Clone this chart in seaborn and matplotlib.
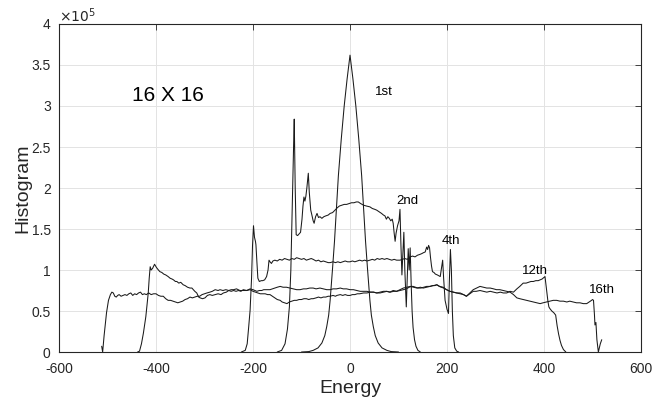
import numpy as np
import pandas as pd
import matplotlib
matplotlib.use("Agg")
import matplotlib.pyplot as plt
from matplotlib.ticker import FuncFormatter, MultipleLocator
import seaborn as sns

# Energy histograms of the 16 X 16 lattice, counts in units of 1e5
x_1st = [-100, -85, -76, -66, -58, -52, -48, -44, -41, -36, -32, -28, -24, -18, -12, -6, 0,
         6, 12, 18, 24, 28, 32, 36, 41, 44, 48, 52, 58, 66, 76, 85, 100]
h_1st = [0, 0.005, 0.02, 0.05, 0.11, 0.2, 0.31, 0.45, 0.63, 1.02, 1.35, 1.75, 2.15, 2.6, 3.0, 3.33, 3.62,
         3.33, 3.0, 2.6, 2.15, 1.75, 1.35, 1.02, 0.63, 0.45, 0.31, 0.2, 0.11, 0.05, 0.02, 0.005, 0]

x_2nd = [-150, -141, -134, -129, -125, -122, -119, -116, -115, -113, -111, -108, -105, -102, -99, -97,
         -95, -93, -91, -89, -86, -84, -81, -79, -76, -74, -71, -68, -65, -62, -58, -54, -50, -45, -41,
         -36, -31, -26, -22, -17, -12, -7, -2, 3, 8, 13, 17, 22, 28, 34, 41, 46, 51, 55, 60, 65, 69, 72,
         75, 78, 81, 84, 87, 89, 91, 93, 95, 98, 101, 103, 105, 107, 109, 111, 113, 116, 118, 120, 122,
         124, 126, 128, 130, 133, 136, 140, 145]
h_2nd = [0, 0.02, 0.1, 0.28, 0.55, 1.0, 1.8, 2.6, 2.84, 2.0, 1.43, 1.42, 1.44, 1.46, 1.62, 1.78,
         1.89, 1.84, 1.9, 2.0, 2.18, 1.95, 1.73, 1.68, 1.6, 1.57, 1.65, 1.69, 1.64, 1.65, 1.63, 1.65, 1.66,
         1.67, 1.69, 1.70, 1.73, 1.76, 1.78, 1.79, 1.80, 1.80, 1.81, 1.82, 1.82, 1.83, 1.83, 1.81, 1.79,
         1.78, 1.77, 1.75, 1.74, 1.73, 1.71, 1.69, 1.67, 1.66, 1.62, 1.65, 1.63, 1.60, 1.62, 1.57, 1.45,
         1.35, 1.45, 1.54, 1.60, 1.74, 1.30, 0.94, 1.20, 1.46, 1.00, 0.55, 0.90, 1.26, 1.00, 1.27, 0.85,
         0.50, 0.30, 0.15, 0.07, 0.02, 0]

x_4th = [-224, -216, -212, -209, -206, -203, -201, -199, -197, -195, -194, -192, -190, -187, -183, -180,
         -176, -172, -169, -167, -165, -162, -159, -155, -150, -145, -140, -135, -130, -125, -120, -115,
         -110, -105, -100, -95, -90, -85, -80, -76, -70, -65, -60, -55, -50, -45, -41, -35, -30, -25, -20,
         -15, -10, -5, 0, 5, 10, 15, 20, 25, 30, 35, 41, 46, 51, 56, 61, 66, 71, 76, 81, 86, 91, 96, 103,
         108, 113, 118, 124, 129, 134, 139, 144, 148, 151, 155, 158, 160, 162, 164, 166, 168, 170, 173,
         176, 180, 183, 186, 188, 191, 193, 196, 200, 203, 205, 207, 209, 211, 213, 216, 220, 224]
h_4th = [0, 0.02, 0.1, 0.3, 0.51, 0.9, 1.3, 1.54, 1.4, 1.35, 1.31, 1.1, 0.9, 0.86, 0.87, 0.87,
         0.88, 0.92, 1.0, 1.12, 1.10, 1.08, 1.11, 1.12, 1.11, 1.13, 1.12, 1.14, 1.13, 1.12, 1.14, 1.13,
         1.15, 1.14, 1.13, 1.14, 1.12, 1.13, 1.14, 1.13, 1.11, 1.12, 1.10, 1.11, 1.10, 1.09, 1.09, 1.10,
         1.09, 1.10, 1.09, 1.10, 1.11, 1.10, 1.10, 1.11, 1.10, 1.11, 1.12, 1.11, 1.12, 1.11, 1.12, 1.13,
         1.12, 1.14, 1.13, 1.14, 1.13, 1.14, 1.13, 1.12, 1.13, 1.12, 1.12, 1.13, 1.14, 1.13, 1.16, 1.17,
         1.16, 1.18, 1.19, 1.20, 1.21, 1.22, 1.28, 1.25, 1.30, 1.27, 1.15, 1.05, 0.98, 0.97, 0.95, 0.94,
         0.93, 0.92, 1.00, 1.12, 0.90, 0.63, 0.52, 0.47, 0.90, 1.25, 1.00, 0.50, 0.20, 0.05, 0.01, 0]

x_12th = [-438, -434, -430, -426, -421, -418, -416, -414, -412, -410, -407, -403, -401, -399, -395, -392,
          -388, -384, -380, -375, -371, -367, -364, -360, -357, -353, -349, -344, -340, -335, -330, -326,
          -320, -316, -312, -309, -304, -299, -294, -289, -284, -278, -272, -266, -261, -255, -250, -245,
          -240, -235, -230, -225, -220, -213, -206, -200, -195, -190, -185, -180, -175, -170, -165, -160,
          -155, -150, -144, -140, -135, -130, -125, -120, -115, -110, -105, -100, -95, -90, -85, -80, -76,
          -70, -65, -60, -55, -50, -45, -41, -35, -30, -27, -20, -15, -10, -5, 0, 5, 10, 15, 20, 28, 35,
          41, 48, 55, 62, 69, 75, 82, 89, 96, 103, 110, 116, 122, 126, 130, 135, 140, 146, 152, 158, 165,
          170, 175, 179, 184, 188, 193, 199, 206, 213, 220, 227, 234, 240, 247, 254, 260, 268, 275, 282,
          289, 296, 303, 310, 316, 323, 330, 337, 344, 350, 357, 363, 368, 373, 378, 383, 388, 392, 396,
          400, 402, 404, 406, 408, 410, 412, 416, 420, 424, 427, 430, 433, 436, 440, 445]
h_12th = [0, 0.01, 0.1, 0.23, 0.43, 0.6, 0.72, 0.9, 1.04, 1.0, 1.02, 1.07, 1.05, 1.03, 1.0, 0.98,
          0.97, 0.95, 0.94, 0.92, 0.90, 0.89, 0.88, 0.86, 0.86, 0.84, 0.85, 0.82, 0.81, 0.79, 0.78, 0.78,
          0.74, 0.72, 0.67, 0.66, 0.65, 0.66, 0.69, 0.70, 0.69, 0.70, 0.71, 0.70, 0.72, 0.73, 0.75, 0.74,
          0.75, 0.74, 0.75, 0.74, 0.76, 0.75, 0.76, 0.74, 0.73, 0.72, 0.71, 0.71, 0.71, 0.70, 0.70, 0.68,
          0.66, 0.64, 0.63, 0.61, 0.60, 0.59, 0.61, 0.62, 0.63, 0.63, 0.64, 0.64, 0.65, 0.65, 0.64, 0.65,
          0.65, 0.66, 0.67, 0.66, 0.67, 0.67, 0.68, 0.68, 0.69, 0.68, 0.69, 0.70, 0.69, 0.70, 0.69, 0.69,
          0.70, 0.70, 0.71, 0.71, 0.72, 0.72, 0.73, 0.73, 0.72, 0.73, 0.74, 0.74, 0.73, 0.75, 0.74, 0.75,
          0.76, 0.77, 0.79, 0.80, 0.80, 0.79, 0.78, 0.78, 0.79, 0.80, 0.80, 0.81, 0.81, 0.82, 0.80, 0.79,
          0.78, 0.76, 0.74, 0.73, 0.72, 0.71, 0.70, 0.68, 0.71, 0.74, 0.74, 0.75, 0.74, 0.73, 0.74, 0.73,
          0.72, 0.73, 0.72, 0.72, 0.74, 0.73, 0.77, 0.80, 0.84, 0.84, 0.85, 0.86, 0.86, 0.87, 0.87, 0.88,
          0.89, 0.91, 0.92, 0.82, 0.72, 0.62, 0.55, 0.53, 0.50, 0.48, 0.45, 0.32, 0.22, 0.14, 0.08, 0.03, 0]

x_16th = [-512, -510, -507, -505, -502, -498, -494, -491, -488, -485, -482, -479, -476, -472, -468, -464,
          -460, -456, -452, -448, -444, -440, -436, -432, -428, -424, -420, -415, -410, -405, -400, -395,
          -390, -385, -380, -375, -370, -365, -360, -355, -350, -345, -340, -335, -330, -325, -320, -315,
          -310, -305, -300, -295, -289, -284, -278, -272, -268, -262, -256, -250, -245, -240, -234, -227,
          -220, -213, -206, -200, -196, -192, -187, -182, -178, -172, -165, -160, -155, -150, -144, -138,
          -131, -124, -117, -110, -103, -96, -90, -83, -76, -70, -62, -55, -48, -41, -35, -28, -20, -14,
          -7, 0, 7, 14, 21, 28, 35, 42, 49, 55, 62, 69, 76, 83, 90, 96, 103, 110, 117, 124, 131, 138, 145,
          151, 158, 165, 172, 179, 185, 192, 199, 206, 213, 220, 227, 234, 240, 247, 254, 261, 268, 275,
          282, 289, 296, 302, 309, 316, 323, 330, 337, 344, 350, 357, 364, 371, 378, 385, 392, 398, 405,
          412, 419, 426, 433, 440, 447, 453, 460, 467, 474, 481, 488, 493, 498, 500, 502, 504, 505, 507,
          509, 512, 516, 519]
h_16th = [0.07, 0, 0.2, 0.31, 0.48, 0.63, 0.70, 0.73, 0.72, 0.68, 0.67, 0.69, 0.70, 0.68, 0.69, 0.70,
          0.69, 0.71, 0.72, 0.69, 0.71, 0.70, 0.72, 0.73, 0.70, 0.71, 0.70, 0.72, 0.70, 0.71, 0.71, 0.69,
          0.68, 0.68, 0.65, 0.63, 0.63, 0.62, 0.61, 0.60, 0.61, 0.62, 0.64, 0.65, 0.67, 0.66, 0.67, 0.68,
          0.68, 0.70, 0.71, 0.72, 0.73, 0.74, 0.76, 0.75, 0.76, 0.75, 0.76, 0.75, 0.76, 0.76, 0.77, 0.75,
          0.75, 0.75, 0.77, 0.76, 0.75, 0.74, 0.75, 0.75, 0.76, 0.76, 0.76, 0.77, 0.78, 0.79, 0.80, 0.79,
          0.79, 0.78, 0.77, 0.76, 0.76, 0.77, 0.77, 0.78, 0.78, 0.77, 0.78, 0.77, 0.76, 0.76, 0.77, 0.77,
          0.78, 0.77, 0.77, 0.76, 0.76, 0.75, 0.74, 0.74, 0.74, 0.73, 0.73, 0.72, 0.72, 0.73, 0.74, 0.73,
          0.74, 0.74, 0.76, 0.78, 0.79, 0.80, 0.79, 0.78, 0.79, 0.78, 0.79, 0.80, 0.81, 0.82, 0.80, 0.79,
          0.76, 0.74, 0.73, 0.72, 0.72, 0.70, 0.68, 0.72, 0.76, 0.78, 0.80, 0.79, 0.78, 0.78, 0.77, 0.76,
          0.76, 0.75, 0.74, 0.73, 0.70, 0.66, 0.65, 0.64, 0.63, 0.62, 0.61, 0.60, 0.59, 0.60, 0.61, 0.62,
          0.63, 0.63, 0.62, 0.62, 0.61, 0.62, 0.61, 0.60, 0.60, 0.59, 0.59, 0.61, 0.63, 0.64, 0.63, 0.45,
          0.33, 0.36, 0.15, 0.0, 0.10, 0.15]

# curve labels: (text, energy, histogram / 1e5)
labels = [("1st", 52, 3.13), ("2nd", 96, 1.80), ("4th", 189, 1.32),
          ("12th", 354, 0.95), ("16th", 493, 0.72)]

series = {"1st": (x_1st, h_1st), "2nd": (x_2nd, h_2nd), "4th": (x_4th, h_4th),
          "12th": (x_12th, h_12th), "16th": (x_16th, h_16th)}

frames = []
for name, (xs, hs) in series.items():
    frames.append(pd.DataFrame({"Energy": xs, "Histogram": np.asarray(hs) * 1e5, "curve": name}))
df = pd.concat(frames, ignore_index=True)

sns.set_style("white")
plt.rcParams["font.family"] = ["Liberation Sans", "DejaVu Sans"]

fig = plt.figure(figsize=(6.57, 4.04), dpi=100)
ax = fig.add_axes([0.0898, 0.1287, 0.8859, 0.8119])

ink = "#262626"
sns.lineplot(data=df, x="Energy", y="Histogram", hue="curve", units="curve",
             palette=["#1a1a1a"] * 5, estimator=None, sort=False, legend=False,
             linewidth=0.75, ax=ax)

ax.set_xlim(-600, 600)
ax.set_ylim(0, 4e5)
ax.xaxis.set_major_locator(MultipleLocator(200))
ax.yaxis.set_major_locator(MultipleLocator(0.5e5))
ax.yaxis.set_major_formatter(FuncFormatter(lambda v, p: f"{v / 1e5:g}"))
ax.xaxis.set_major_formatter(FuncFormatter(lambda v, p: f"{v:g}"))

ax.grid(True, color="#e3e3e3", linewidth=0.7)
ax.set_axisbelow(True)
for s in ax.spines.values():
    s.set_color(ink)
    s.set_linewidth(0.8)
    s.set_visible(True)
ax.tick_params(direction="in", top=True, right=True, length=4, width=0.6,
               colors=ink, labelsize=10)
ax.tick_params(axis="x", pad=7)
ax.tick_params(axis="y", pad=6)

ax.set_xlabel("Energy", fontsize=14, color=ink, labelpad=3)
ax.set_ylabel("Histogram", fontsize=14, color=ink, labelpad=0)

ax.text(0.0, 0.996, r"$\times10^{5}$", transform=ax.transAxes, fontsize=10,
        color=ink, ha="left", va="bottom")
ax.text(-449, 3.065e5, "16 X 16", fontsize=15, color="black", ha="left", va="baseline")
for txt, ex, hy in labels:
    ax.text(ex, hy * 1e5, txt, fontsize=9.5, color="black", ha="left", va="baseline")

fig.savefig("out.png", dpi=100)
